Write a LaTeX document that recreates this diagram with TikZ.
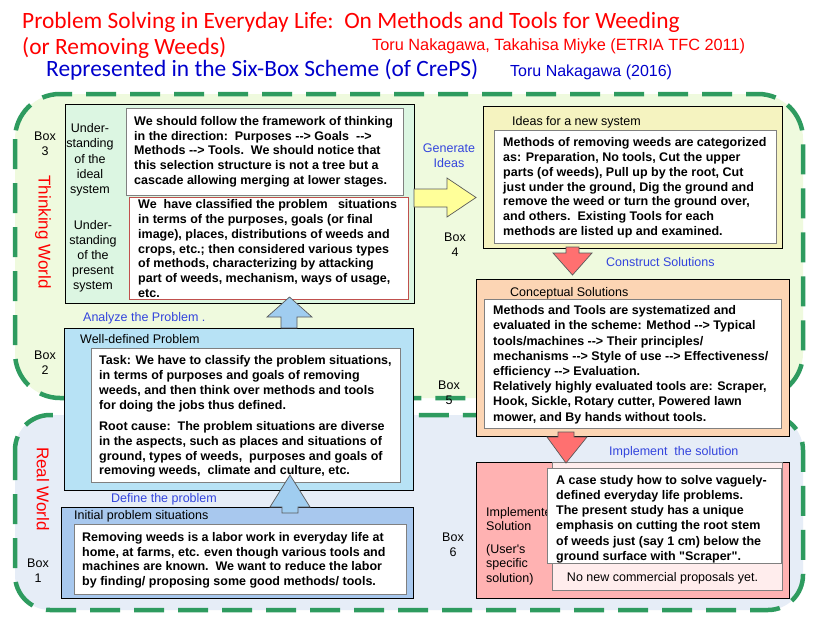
\documentclass[tikz,border=0pt]{standalone}
\usepackage{fontspec}
\setmainfont{Liberation Sans}
\newfontfamily\af{Liberation Sans}
\newfontfamily\tf{Carlito}
\definecolor{wgreen}{RGB}{46,155,95}
\definecolor{thinkfill}{RGB}{239,250,222}
\definecolor{realfill}{RGB}{230,237,247}
\definecolor{cthree}{RGB}{220,246,226}
\definecolor{cfour}{RGB}{245,243,192}
\definecolor{cfive}{RGB}{252,213,180}
\definecolor{csix}{RGB}{255,178,178}
\definecolor{csixin}{RGB}{255,237,237}
\definecolor{ctwo}{RGB}{183,226,245}
\definecolor{cone}{RGB}{168,200,238}
\definecolor{igray}{RGB}{128,128,128}
\definecolor{ired}{RGB}{192,80,77}
\definecolor{lblue}{RGB}{51,68,221}
\definecolor{tblue}{RGB}{0,0,204}
\definecolor{agray}{RGB}{90,90,90}
\definecolor{ayellow}{RGB}{255,255,153}
\definecolor{ared}{RGB}{255,112,112}
\definecolor{ablue}{RGB}{160,205,240}
\begin{document}
\begin{tikzpicture}[x=1pt,y=-1pt,
 world/.style={draw=wgreen, line width=4.5pt, dash pattern=on 30pt off 14pt},
 obox/.style={draw=black, line width=1.1pt, anchor=north west, inner sep=0pt},
 ibox/.style={draw=igray, line width=0.8pt, fill=white, anchor=north west, inner sep=0pt},
 body/.style={font=\af\bfseries\fontsize{12.5}{14.8}\selectfont, align=left, inner sep=0pt, anchor=north west},
 lab/.style={font=\af\fontsize{12.5}{15}\selectfont, inner sep=0pt},
 blab/.style={lab, text=lblue},
 barrow/.style={draw=agray, line width=0.7pt, line join=miter},
 worldlabel/.style={font=\af\fontsize{17}{17}\selectfont, text=red, rotate=-90, inner sep=0pt},
 titletext/.style={font=\tf\fontsize{23.4}{23.4}\selectfont, anchor=base west, inner sep=0pt}
]
\useasboundingbox (0,0) rectangle (828,627);
\fill[white] (0,0) rectangle (828,627);

% titles
\node[titletext, text=red] (title1) at (22,28) {Problem Solving in Everyday Life:\ \ On Methods and Tools for Weeding};
\node[titletext, text=red] (title2) at (22,54) {(or Removing Weeds)};
\node[font=\af\fontsize{16.3}{16.3}\selectfont, text=red, anchor=base west, inner sep=0pt] (auth1) at (372,50) {Toru Nakagawa, Takahisa Miyke (ETRIA TFC 2011)};
\node[titletext, text=tblue] (title3) at (46,76) {Represented in the Six-Box Scheme (of CrePS)};
\node[font=\af\fontsize{16}{16}\selectfont, text=tblue, anchor=base west, inner sep=0pt] (auth2) at (510,76) {Toru Nakagawa (2016)};

% worlds
\draw[world, fill=thinkfill, rounded corners=45pt] (15,94) rectangle (803,398);
\draw[world, fill=realfill, rounded corners=35pt] (15,415) rectangle (803,610);
\node[worldlabel] (tw) at (43,232) {Thinking World};
\node[worldlabel] (rw) at (43,489) {Real World};

% Box 3
\node[obox, fill=cthree, minimum width=349pt, minimum height=199pt] (b3) at (65,104) {};
\node[ibox, minimum width=277pt, minimum height=87pt] (b3a) at (126,108) {};
\node[ibox, draw=ired, minimum width=279pt, minimum height=102pt] (b3b) at (129,197) {};
\node[body] (t3a) at (134,116) {We should follow the framework of thinking\\in the direction:\ \ Purposes -{}-> Goals\ \ -{}->\\Methods -{}-> Tools.\ \ We should notice that\\this selection structure is not a tree but a\\cascade allowing merging at lower stages.};
\node[body] (t3b) at (138,199.4) {We\ \ have classified the problem\ \ \ situations\\in terms of the purposes, goals (or final\\image), places, distributions of weeds and\\crops, etc.; then considered various types\\of methods, characterizing by attacking\\part of weeds, mechanism, ways of usage,\\etc.};
\node[lab, align=center, anchor=north, font=\af\fontsize{12.5}{15.2}\selectfont] (ideal) at (90,123.5) {Under-\\standing\\of the\\ideal\\system};
\node[lab, align=center, anchor=north, font=\af\fontsize{12.5}{15}\selectfont] (present) at (93,220.5) {Under-\\standing\\of the\\present\\system};
\node[lab, align=center, anchor=north] (l3) at (45,131.5) {Box\\3};

% Box 4
\node[obox, fill=cfour, minimum width=299pt, minimum height=142pt] (b4) at (483,106) {};
\node[lab, anchor=north west] (h4) at (512,116.5) {Ideas for a new system};
\node[ibox, minimum width=282pt, minimum height=113pt] (b4a) at (494,130) {};
\node[body] (t4) at (503,137.4) {Methods of removing weeds are categorized\\as: Preparation, No tools, Cut the upper\\parts (of weeds), Pull up by the root, Cut\\just under the ground, Dig the ground and\\remove the weed or turn the ground over,\\and others.\ \ Existing Tools for each\\methods are listed up and examined.};
\node[lab, align=center, anchor=north] (l4) at (455,232.5) {Box\\4};

% Box 5
\node[obox, fill=cfive, minimum width=313pt, minimum height=157pt] (b5) at (476,279) {};
\node[lab, anchor=north west] (h5) at (510,287.5) {Conceptual Solutions};
\node[ibox, minimum width=297pt, minimum height=129pt] (b5a) at (484,299) {};
\node[body, font=\af\bfseries\fontsize{12.5}{15.2}\selectfont] (t5) at (493,305.4) {Methods and Tools are systematized and\\evaluated in the scheme: Method -{}-> Typical\\tools/machines -{}-> Their principles/\\mechanisms -{}-> Style of use -{}-> Effectiveness/\\efficiency -{}-> Evaluation.\\Relatively highly evaluated tools are: Scraper,\\Hook, Sickle, Rotary cutter, Powered lawn\\mower, and By hands without tools.};
\node[lab, align=center, anchor=north] (l5) at (449,380.5) {Box\\5};

% Box 2
\node[obox, fill=ctwo, minimum width=349pt, minimum height=162pt] (b2) at (64,328) {};
\node[lab, anchor=north west] (h2) at (80,334.5) {Well-defined Problem};
\node[ibox, minimum width=309pt, minimum height=134pt] (b2a) at (91,348) {};
\node[body] (t2) at (99,355.4) {Task: We have to classify the problem situations,\\in terms of purposes and goals of removing\\weeds, and then think over methods and tools\\for doing the jobs thus defined.\\[6.6pt]Root cause:\ \ The problem situations are diverse\\in the aspects, such as places and situations of\\ground, types of weeds,\ \ purposes and goals of\\removing weeds,\ \ climate and culture, etc.};
\node[lab, align=center, anchor=north] (l2) at (45,350.5) {Box\\2};

% Box 1
\node[obox, fill=cone, minimum width=352pt, minimum height=91pt] (b1) at (61,507) {};
\node[lab, anchor=north west] (h1) at (74,510.5) {Initial problem situations};
\node[ibox, minimum width=332pt, minimum height=70pt] (b1a) at (74,524) {};
\node[body, font=\af\bfseries\fontsize{12.5}{14.7}\selectfont] (t1) at (82,532.1) {Removing weeds is a labor work in everyday life at\\home, at farms, etc. even though various tools and\\machines are known.\ \ We want to reduce the labor\\by finding/ proposing some good methods/ tools.};
\node[lab, align=center, anchor=north] (l1) at (38,558.5) {Box\\1};

% Box 6
\node[obox, fill=csix, minimum width=313pt, minimum height=136pt] (b6) at (476,462) {};
\node[ibox, fill=csixin, minimum width=230pt, minimum height=128pt] (b6p) at (552,462) {};
\node[lab, anchor=north west, align=left, font=\af\fontsize{12.5}{14}\selectfont] (h6) at (486,507.5) {Implemented\\Solution};
\node[lab, anchor=north west, align=left, font=\af\fontsize{12.5}{14.2}\selectfont] (u6) at (486,544.5) {(User's\\specific\\solution)};
\node[ibox, minimum width=234pt, minimum height=95pt] (b6a) at (547,468) {};
\node[body, font=\af\bfseries\fontsize{12.5}{15.1}\selectfont] (t6) at (556,475.4) {A case study how to solve vaguely-\\defined everyday life problems.\\The present study has a unique\\emphasis on cutting the root stem\\of weeds just (say 1 cm) below the\\ground surface with "Scraper".};
\node[lab, anchor=north] (n6) at (662.5,572.5) {No new commercial proposals yet.};
\node[lab, align=center, anchor=north] (l6) at (453,532.5) {Box\\6};

% block arrows
\draw[barrow, fill=ayellow] (414,189) -- (447,189) -- (447,178) -- (476,197.5) -- (447,217) -- (447,207) -- (414,207) -- cycle;
\draw[barrow, fill=ablue] (281,328) -- (281,317) -- (267,317) -- (289.5,297) -- (312,317) -- (297,317) -- (297,328) -- cycle;
\draw[barrow, fill=ablue] (282,513) -- (282,507) -- (270,507) -- (290,475) -- (310,507) -- (298,507) -- (298,513) -- cycle;
\draw[barrow, fill=ared] (566,247) -- (566,253) -- (553,253) -- (572.5,275) -- (592,253) -- (579,253) -- (579,247) -- cycle;
\draw[barrow, fill=ared] (558,432) -- (558,437) -- (547,437) -- (566,463) -- (587,437) -- (574,437) -- (574,432) -- cycle;

% arrow labels
\node[blab, align=center, anchor=north] (gen) at (449,143.5) {Generate\\Ideas};
\node[blab, anchor=north west] (cons) at (606,257.5) {Construct Solutions};
\node[blab, anchor=north west] (anal) at (83,312.5) {Analyze the Problem .};
\node[blab, anchor=north west] (defp) at (111,493.5) {Define the problem};
\node[blab, anchor=north west] (impl) at (609,446.5) {Implement\ \ the solution};
\end{tikzpicture}
\end{document}
